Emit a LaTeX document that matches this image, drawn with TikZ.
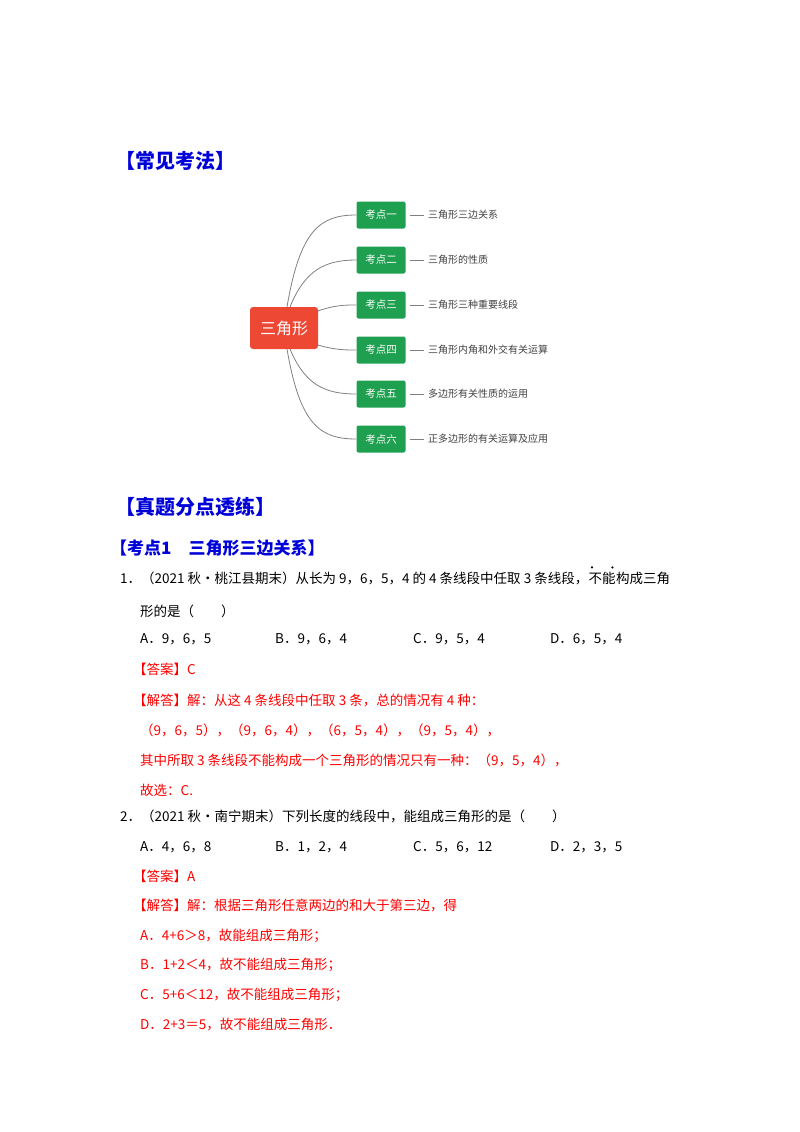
\documentclass[tikz,border=0pt]{standalone}
\usepackage{fontspec}
\setmainfont{Noto Sans CJK SC}
\definecolor{gr}{RGB}{30,160,80}
\definecolor{cr}{RGB}{236,72,52}
\begin{document}
\begin{tikzpicture}[x=1pt,y=-1pt,
 txt/.style={anchor=base west,inner sep=0pt,font=\fontsize{13.5}{14}\selectfont},
 red/.style={txt,text=red},
 head/.style={anchor=base west,inner sep=0pt,font=\fontsize{20}{21}\selectfont\bfseries,text=blue!85!black},
 gbox/.style={fill=gr,rounded corners=2pt,minimum width=49pt,minimum height=27pt,text=white,font=\fontsize{10.5}{11}\selectfont,inner sep=0pt},
 lbl/.style={anchor=west,inner sep=0pt,font=\fontsize{10}{11}\selectfont,text=black!75},
 br/.style={draw=black!50,line width=0.8pt}]
\useasboundingbox (0,0) rectangle (800,1132);
\node[head] (h1) at (115,168) {【常见考法】};
\node[fill=cr,rounded corners=3pt,minimum width=68pt,minimum height=42pt,text=white,font=\fontsize{16}{17}\selectfont,inner sep=0pt] (c) at (284,328) {三角形};
\foreach \i/\y/\k/\t in {1/215/一/三角形三边关系,2/260/二/三角形的性质,3/305/三/三角形三种重要线段,4/350/四/三角形内角和外交有关运算,5/394/五/多边形有关性质的运用,6/439/六/正多边形的有关运算及应用}{
 \node[gbox] (g\i) at (381,\y) {考点\k};
 \node[lbl] (l\i) at (428,\y) {\t};
 \draw[br] ([xshift=4pt]g\i.east) -- ([xshift=-4pt]l\i.west);
}
\draw[br] (287,307) .. controls (300,230) and (320,215) .. (g1.west);
\draw[br] (290,307) .. controls (305,270) and (325,260) .. (g2.west);
\draw[br] (318,311) .. controls (335,305) and (345,305) .. (g3.west);
\draw[br] (318,345) .. controls (335,350) and (345,350) .. (g4.west);
\draw[br] (290,349) .. controls (305,385) and (325,394) .. (g5.west);
\draw[br] (287,349) .. controls (300,425) and (320,439) .. (g6.west);
\node[head] (h2) at (115,514) {【真题分点透练】};
\node[head,font=\fontsize{17}{18}\selectfont\bfseries] (h3) at (110,554) {【考点1\quad 三角形三边关系】};
\node[txt] (q1) at (120,583) {1．（2021 秋•桃江县期末）从长为 9，6，5，4 的 4 条线段中任取 3 条线段，};
\node[txt] (nn) at (q1.base east) {不能};
\node[txt] (q1r) at (nn.base east) {构成三角};
\fill ([xshift=3.5pt,yshift=4pt]nn.north west) circle (1.2) ([xshift=-3.5pt,yshift=4pt]nn.north east) circle (1.2);
\node[txt] (q1b) at (140,616) {形的是（\qquad ）};
\node[txt] (a1) at (140,643) {A．9，6，5};
\node[txt] (b1) at (275,643) {B．9，6，4};
\node[txt] (c1) at (413,643) {C．9，5，4};
\node[txt] (d1) at (550,643) {D．6，5，4};
\node[red] (ans1) at (133,674) {【答案】C};
\node[red] (s1) at (133,705) {【解答】解：从这 4 条线段中任取 3 条，总的情况有 4 种：};
\node[red] (s2) at (140,735) {（9，6，5），（9，6，4），（6，5，4），（9，5，4），};
\node[red] (s3) at (140,765) {其中所取 3 条线段不能构成一个三角形的情况只有一种：（9，5，4），};
\node[red] (s4) at (140,795) {故选：\textit{C}.};
\node[txt] (q2) at (120,821) {2．（2021 秋•南宁期末）下列长度的线段中，能组成三角形的是（\qquad ）};
\node[txt] (a2) at (140,851) {A．4，6，8};
\node[txt] (b2) at (275,851) {B．1，2，4};
\node[txt] (c2) at (413,851) {C．5，6，12};
\node[txt] (d2) at (550,851) {D．2，3，5};
\node[red] (ans2) at (133,881) {【答案】A};
\node[red] (t1) at (133,910) {【解答】解：根据三角形任意两边的和大于第三边，得};
\node[red] (t2) at (140,940) {\textit{A}．4+6＞8，故能组成三角形；};
\node[red] (t3) at (140,969) {\textit{B}．1+2＜4，故不能组成三角形；};
\node[red] (t4) at (140,999) {\textit{C}．5+6＜12，故不能组成三角形；};
\node[red] (t5) at (140,1029) {\textit{D}．2+3＝5，故不能组成三角形．};
\end{tikzpicture}
\end{document}
